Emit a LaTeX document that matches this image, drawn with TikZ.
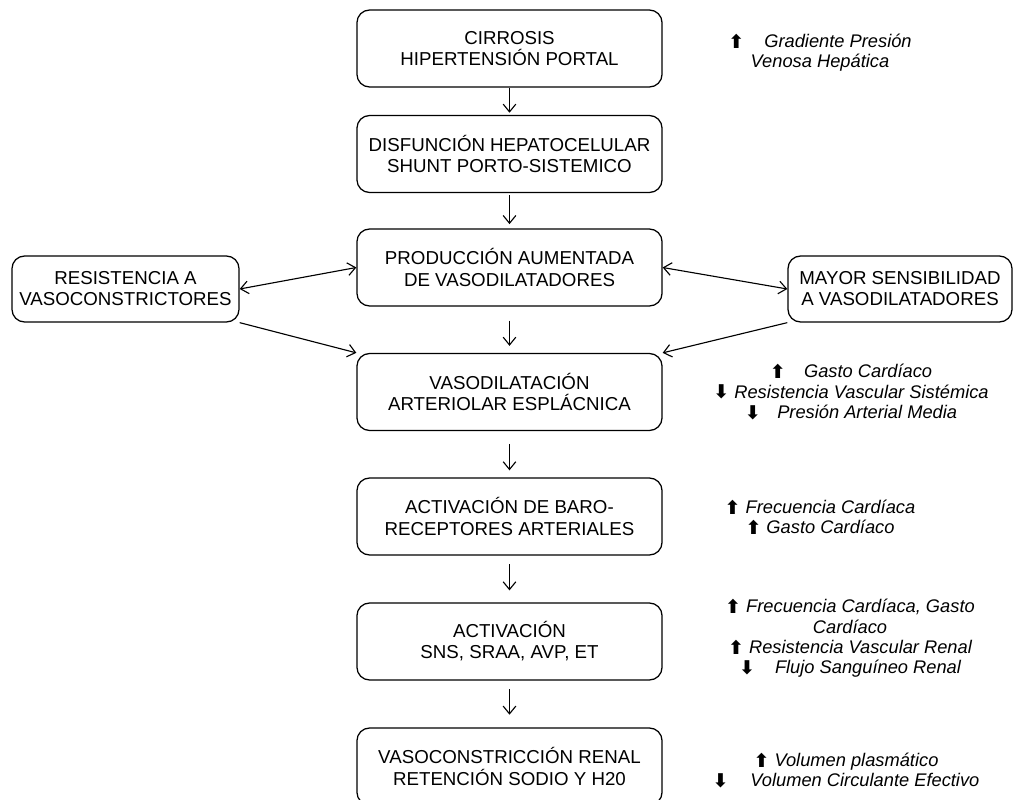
\documentclass[tikz,border=0pt]{standalone}
\usepackage{fontspec}
\setmainfont{Liberation Sans}
\newfontfamily\flechafont{DejaVu Sans}
\usetikzlibrary{arrows.meta}
\newcommand{\sube}{{\upshape\flechafont\bfseries\fontsize{13.5}{11}\selectfont\raisebox{-0.6pt}{⬆}}}
\newcommand{\baja}{{\upshape\flechafont\bfseries\fontsize{13.5}{11}\selectfont\raisebox{-0.6pt}{⬇}}}
\tikzset{
  caja/.style={draw,line width=0.9pt,rounded corners=9pt,align=center,
    minimum height=1.925cm,inner sep=2pt,font=\fontsize{13.3}{15}\selectfont},
  principal/.style={caja,minimum width=7.625cm},
  lateral/.style={caja,minimum height=1.65cm},
  nota/.style={align=center,inner sep=0pt,font=\fontsize{13}{14.4}\selectfont\itshape},
  punta/.tip={Straight Barb[length=5.5pt,width=9pt]},
  flujo/.style={-punta,line width=0.8pt},
  doble/.style={punta-punta,line width=0.8pt}
}
\begin{document}
\begin{tikzpicture}[x=0.025cm,y=-0.025cm]
  \clip (0,0) rectangle (1015,800);
  % cadena central
  \node[principal] (cirrosis) at (509.5,48.5) {CIRROSIS\\HIPERTENSIÓN PORTAL};
  \node[principal] (disfuncion) at (509.5,154) {DISFUNCIÓN HEPATOCELULAR\\SHUNT PORTO-SISTEMICO};
  \node[principal] (produccion) at (509.5,267.5) {PRODUCCIÓN AUMENTADA\\DE VASODILATADORES};
  \node[principal] (vasodil) at (509.5,392) {VASODILATACIÓN\\ARTERIOLAR ESPLÁCNICA};
  \node[principal] (baro) at (509.5,516.5) {ACTIVACIÓN DE BARO-\\RECEPTORES ARTERIALES};
  \node[principal] (activacion) at (509.5,641.5) {ACTIVACIÓN\\SNS, SRAA, AVP, ET};
  \node[principal] (renal) at (509.5,766.5) {VASOCONSTRICCIÓN RENAL\\RETENCIÓN SODIO Y H20};
  % cajas laterales
  \node[lateral,minimum width=5.675cm] (resistencia) at (125.5,289) {RESISTENCIA A\\VASOCONSTRICTORES};
  \node[lateral,minimum width=5.6cm] (sensibilidad) at (900,289) {MAYOR SENSIBILIDAD\\A VASODILATADORES};
  % notas
  \node[nota] (notagradiente) at (820,52.5) {\sube\hspace{1.1em}Gradiente Presión\\Venosa Hepática};
  \node[nota] (notagasto) at (851,392) {\sube\hspace{1em}Gasto Cardíaco\\\baja\ Resistencia Vascular Sistémica\\\baja\hspace{0.9em}Presión Arterial Media};
  \node[nota] (notafrecuencia) at (820,517.5) {\sube\ Frecuencia Cardíaca\\\sube\ Gasto Cardíaco};
  \node[nota] (notarenal) at (850,638.5) {\sube\ Frecuencia Cardíaca, Gasto\\Cardíaco\\\sube\ Resistencia Vascular Renal\\\baja\hspace{1.1em}Flujo Sanguíneo Renal};
  \node[nota] (notavolumen) at (846,770.5) {\sube\ Volumen plasmático\\\baja\hspace{1.2em}Volumen Circulante Efectivo};
  % flechas
  \foreach \a/\b/\s/\e in {cirrosis/disfuncion/0/1.5,disfuncion/produccion/1.5/3,
      produccion/vasodil/10/5,vasodil/baro/9/5,baro/activacion/6/8.5,activacion/renal/6/9}
    \draw[flujo,shorten <=\s pt,shorten >=\e pt] (\a.south) -- (\b.north);
  \draw[doble] (resistencia.east) -- (produccion.west);
  \draw[flujo] (resistencia.south east) -- (vasodil.north west);
  \draw[doble] (produccion.east) -- (sensibilidad.west);
  \draw[flujo] (sensibilidad.south west) -- (vasodil.north east);
\end{tikzpicture}
\end{document}
